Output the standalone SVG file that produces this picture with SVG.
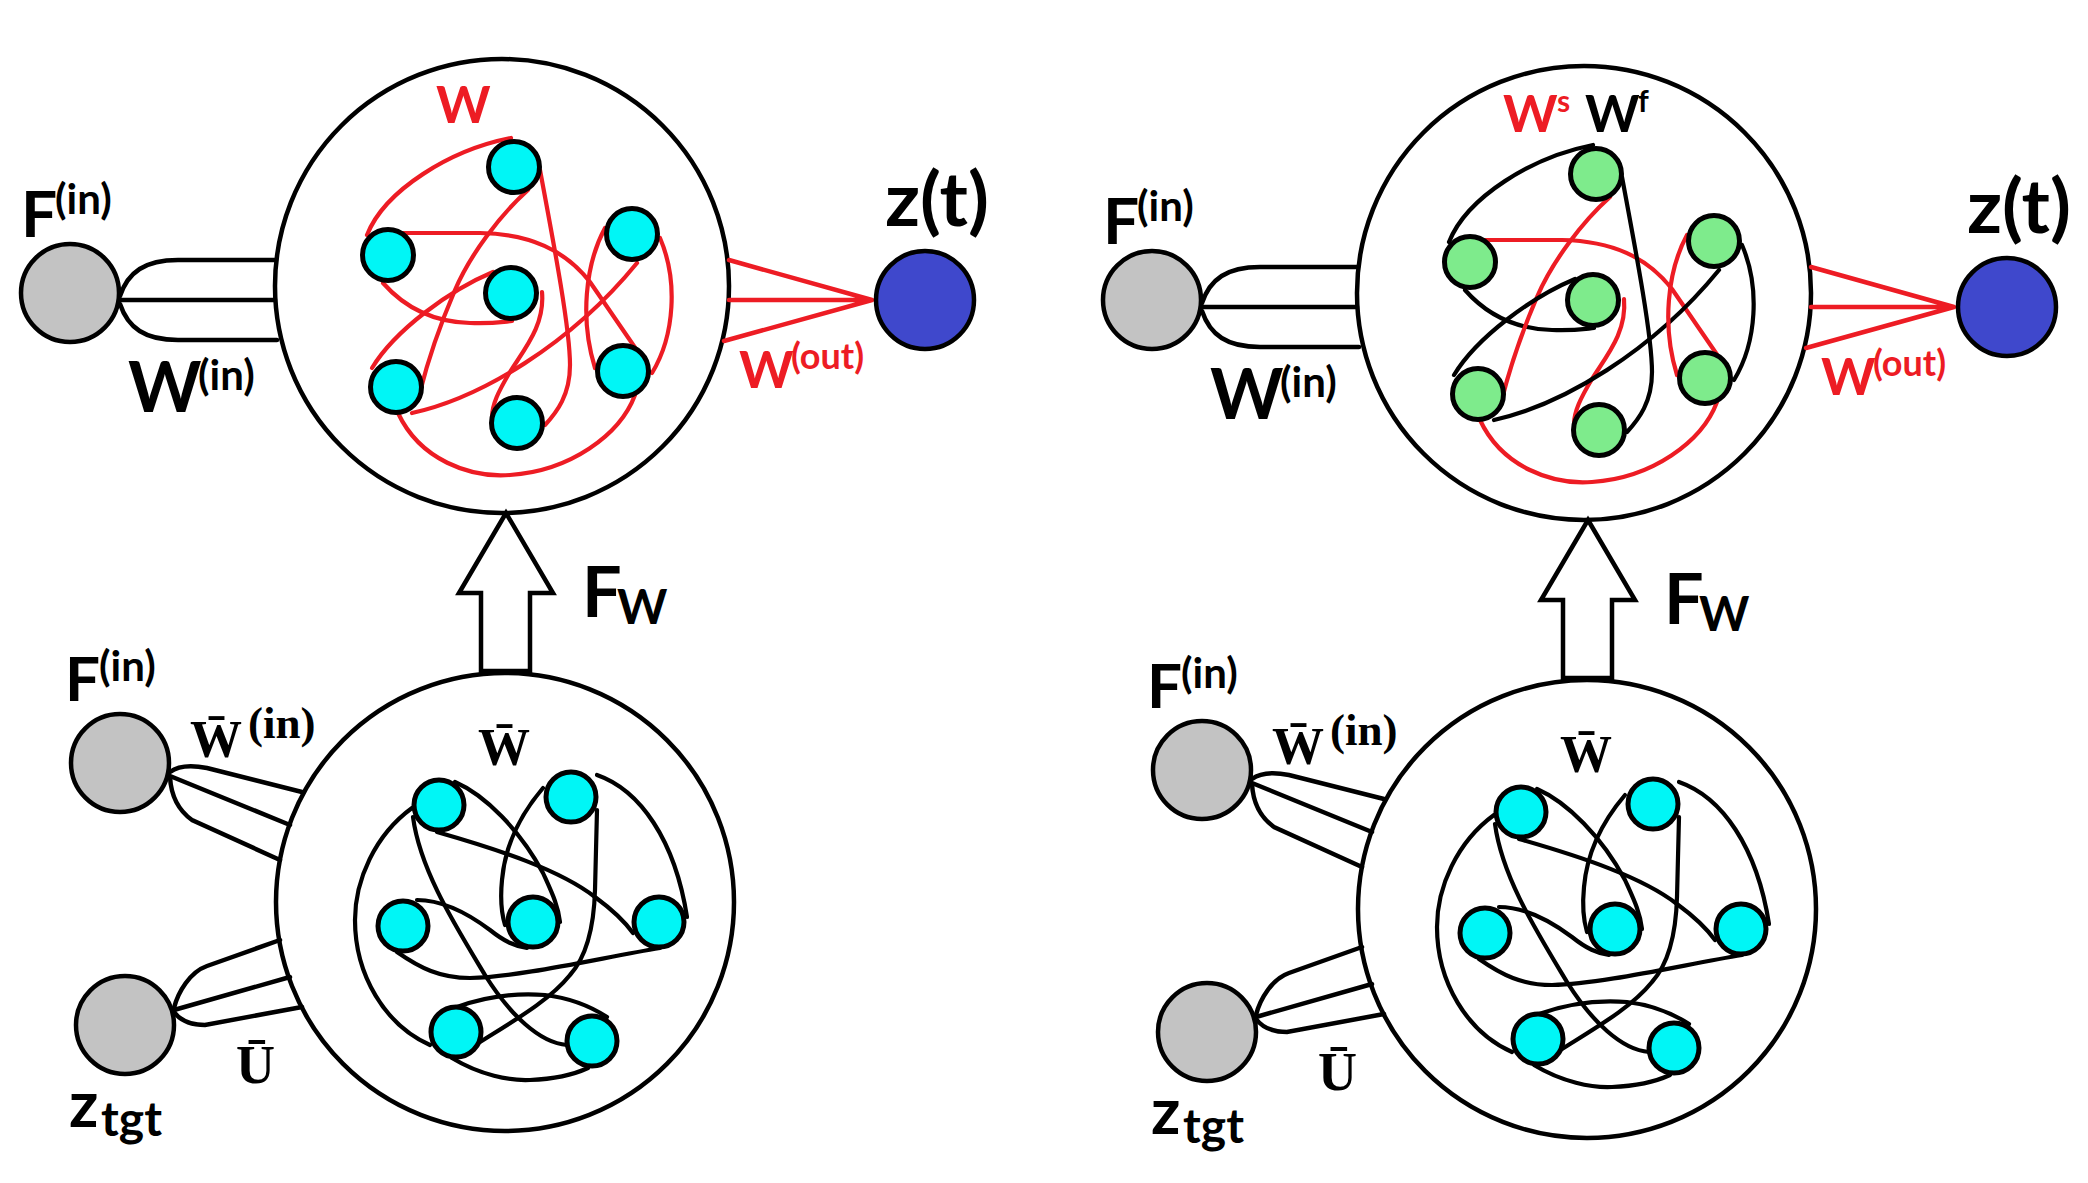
<svg xmlns="http://www.w3.org/2000/svg" width="2088" height="1183" viewBox="0 0 2088 1183">
<defs>
<style>
.res{fill:#fff;stroke:#000;stroke-width:4.5}
.nc{fill:#00f6f6;stroke:#000;stroke-width:5}
.ng{fill:#7eeb8c;stroke:#000;stroke-width:5}
.gin{fill:#c3c3c3;stroke:#000;stroke-width:4.5}
.zout{fill:#3f48cc;stroke:#000;stroke-width:4.5}
.e{fill:none;stroke-width:4.2;stroke-linecap:round;stroke-linejoin:round}
.r{stroke:#ed1c24}
.k{stroke:#000}
.ln{fill:none;stroke:#000;stroke-width:4.5;stroke-linecap:round}
.lo{fill:none;stroke:#ed1c24;stroke-width:4.5;stroke-linecap:round}
.arrow{fill:#fff;stroke:#000;stroke-width:4.5;stroke-linejoin:miter}
.t{font-family:Lato,"Liberation Sans",sans-serif;font-weight:bold;fill:#000}
.s{font-family:"Liberation Serif","DejaVu Serif",serif;font-weight:bold;fill:#000}
.red{fill:#ed1c24}
</style>
</defs>
<rect width="2088" height="1183" fill="#fff"/>

<!-- ===== reservoirs ===== -->
<g id="reservoir-top-left"><circle class="res" cx="502" cy="286" r="227"/></g>
<g id="reservoir-bottom-left"><circle class="res" cx="505" cy="902" r="229"/></g>
<g id="reservoir-top-right" transform="translate(1082,7)"><circle class="res" cx="502" cy="286" r="227"/></g>
<g id="reservoir-bottom-right" transform="translate(1082,7)"><circle class="res" cx="505" cy="902" r="229"/></g>

<!-- ===== connectors ===== -->
<g id="connectors">
  <g id="conn-top-left">
    <path class="ln" d="M120,296 C128,272 145,260 178,260 L276,260"/>
    <path class="ln" d="M120,300 L275,300"/>
    <path class="ln" d="M120,304 C128,328 145,340 178,340 L277,340"/>
    <path class="lo" d="M729,260 L872,300 M729,300 L872,300 M724,341 L872,300"/>
    <path class="e r" d="M511,138 C450,150 385,190 367,235"/>
    <path class="e r" d="M400,233 L480,233 C530,234 565,250 590,282 L636,349"/>
    <path class="e r" d="M383,283 C405,308 435,322 470,323 C490,324 502,322 512,321"/>
    <path class="e r" d="M528,190 C500,215 470,255 455,290 C440,325 428,360 420,392"/>
    <path class="e r" d="M540,170 C555,250 570,330 570,365 C570,395 557,412 545,425"/>
    <path class="e r" d="M493,272 C450,290 395,330 372,368"/>
    <path class="e r" d="M542,292 C545,325 525,348 510,372 C498,392 492,405 492,417"/>
    <path class="e r" d="M412,413 C480,398 570,345 637,263"/>
    <path class="e r" d="M605,228 C585,265 580,320 595,368"/>
    <path class="e r" d="M660,238 C678,280 675,335 652,373"/>
    <path class="e r" d="M398,413 C420,460 470,478 510,475 C570,471 620,435 635,395"/>
  </g>
  <g id="conn-top-right" transform="translate(1082,7)">
    <path class="ln" d="M120,296 C128,272 145,260 178,260 L276,260"/>
    <path class="ln" d="M120,300 L275,300"/>
    <path class="ln" d="M120,304 C128,328 145,340 178,340 L277,340"/>
    <path class="lo" d="M729,260 L872,300 M729,300 L872,300 M724,341 L872,300"/>
    <path class="e k" d="M511,138 C450,150 385,190 367,235"/>
    <path class="e r" d="M400,233 L480,233 C530,234 565,250 590,282 L636,349"/>
    <path class="e k" d="M383,283 C405,308 435,322 470,323 C490,324 502,322 512,321"/>
    <path class="e r" d="M528,190 C500,215 470,255 455,290 C440,325 428,360 420,392"/>
    <path class="e k" d="M540,170 C555,250 570,330 570,365 C570,395 557,412 545,425"/>
    <path class="e k" d="M493,272 C450,290 395,330 372,368"/>
    <path class="e r" d="M542,292 C545,325 525,348 510,372 C498,392 492,405 492,417"/>
    <path class="e k" d="M412,413 C480,398 570,345 637,263"/>
    <path class="e r" d="M605,228 C585,265 580,320 595,368"/>
    <path class="e k" d="M660,238 C678,280 675,335 652,373"/>
    <path class="e r" d="M398,413 C420,460 470,478 510,475 C570,471 620,435 635,395"/>
  </g>
  <g id="conn-bottom-left">
    <path class="ln" d="M170,772 C178,766 192,765 207,768 L302,792"/>
    <path class="ln" d="M170,776 L290,825"/>
    <path class="ln" d="M170,777 C171,795 178,810 192,820 L280,860"/>
    <path class="ln" d="M174,1008 C178,992 190,972 207,966 L280,940"/>
    <path class="ln" d="M174,1010 L290,977"/>
    <path class="ln" d="M174,1012 C180,1020 190,1025 205,1025 L302,1007"/>
    <path class="e k" d="M412,808 C375,835 355,880 355,920 C355,975 385,1025 430,1045"/>
    <path class="e k" d="M452,1058 C480,1075 510,1081 530,1080 C555,1079 575,1074 588,1068"/>
    <path class="e k" d="M457,1007 C490,995 520,993 545,995 C570,998 590,1006 607,1017"/>
    <path class="e k" d="M455,782 C485,795 520,830 543,873 C552,893 558,905 560,922"/>
    <path class="e k" d="M437,832 C500,850 560,870 595,897 C610,908 625,922 633,933"/>
    <path class="e k" d="M413,817 C420,870 455,925 485,975 C510,1015 540,1043 567,1045"/>
    <path class="e k" d="M543,788 C520,815 505,845 502,880 C500,900 502,915 505,925"/>
    <path class="e k" d="M597,810 L595,890 C594,925 588,955 570,975 C550,1000 515,1020 480,1042"/>
    <path class="e k" d="M597,775 C640,790 675,840 687,917"/>
    <path class="e k" d="M417,900 C445,900 470,915 490,930 C505,942 515,946 527,948"/>
    <path class="e k" d="M397,952 C420,968 440,978 470,978 C520,977 600,958 660,948"/>
  </g>
  <g id="conn-bottom-right" transform="translate(1082,7)">
    <path class="ln" d="M170,772 C178,766 192,765 207,768 L302,792"/>
    <path class="ln" d="M170,776 L290,825"/>
    <path class="ln" d="M170,777 C171,795 178,810 192,820 L280,860"/>
    <path class="ln" d="M174,1008 C178,992 190,972 207,966 L280,940"/>
    <path class="ln" d="M174,1010 L290,977"/>
    <path class="ln" d="M174,1012 C180,1020 190,1025 205,1025 L302,1007"/>
    <path class="e k" d="M412,808 C375,835 355,880 355,920 C355,975 385,1025 430,1045"/>
    <path class="e k" d="M452,1058 C480,1075 510,1081 530,1080 C555,1079 575,1074 588,1068"/>
    <path class="e k" d="M457,1007 C490,995 520,993 545,995 C570,998 590,1006 607,1017"/>
    <path class="e k" d="M455,782 C485,795 520,830 543,873 C552,893 558,905 560,922"/>
    <path class="e k" d="M437,832 C500,850 560,870 595,897 C610,908 625,922 633,933"/>
    <path class="e k" d="M413,817 C420,870 455,925 485,975 C510,1015 540,1043 567,1045"/>
    <path class="e k" d="M543,788 C520,815 505,845 502,880 C500,900 502,915 505,925"/>
    <path class="e k" d="M597,810 L595,890 C594,925 588,955 570,975 C550,1000 515,1020 480,1042"/>
    <path class="e k" d="M597,775 C640,790 675,840 687,917"/>
    <path class="e k" d="M417,900 C445,900 470,915 490,930 C505,942 515,946 527,948"/>
    <path class="e k" d="M397,952 C420,968 440,978 470,978 C520,977 600,958 660,948"/>
  </g>
  <g id="arrow-left"><polygon class="arrow" points="506,513 553,593 530,593 530,671 481,671 481,593 459,593"/></g>
  <g id="arrow-right" transform="translate(1082,7)"><polygon class="arrow" points="506,513 553,593 530,593 530,671 481,671 481,593 459,593"/></g>
</g>

<!-- ===== input / output nodes ===== -->
<g id="F-in-top-left"><circle class="gin" cx="70" cy="293" r="49"/></g>
<g id="z-out-top-left"><circle class="zout" cx="925" cy="300" r="49"/></g>
<g id="F-in-top-right" transform="translate(1082,7)"><circle class="gin" cx="70" cy="293" r="49"/></g>
<g id="z-out-top-right" transform="translate(1082,7)"><circle class="zout" cx="925" cy="300" r="49"/></g>
<g id="F-in-bottom-left"><circle class="gin" cx="120" cy="763" r="49"/></g>
<g id="z-tgt-bottom-left"><circle class="gin" cx="125" cy="1025" r="49"/></g>
<g id="F-in-bottom-right" transform="translate(1082,7)"><circle class="gin" cx="120" cy="763" r="49"/></g>
<g id="z-tgt-bottom-right" transform="translate(1082,7)"><circle class="gin" cx="125" cy="1025" r="49"/></g>

<!-- ===== reservoir neurons: top-left (cyan) ===== -->
<g id="tl-n1"><circle class="nc" cx="514" cy="167" r="25.5"/></g>
<g id="tl-n2"><circle class="nc" cx="388" cy="255" r="25.5"/></g>
<g id="tl-n3"><circle class="nc" cx="511" cy="293" r="25.5"/></g>
<g id="tl-n4"><circle class="nc" cx="632" cy="234" r="25.5"/></g>
<g id="tl-n5"><circle class="nc" cx="623" cy="371" r="25.5"/></g>
<g id="tl-n6"><circle class="nc" cx="396" cy="387" r="25.5"/></g>
<g id="tl-n7"><circle class="nc" cx="517" cy="423" r="25.5"/></g>

<!-- top-right (green) -->
<g id="tr-n1" transform="translate(1082,7)"><circle class="ng" cx="514" cy="167" r="25.5"/></g>
<g id="tr-n2" transform="translate(1082,7)"><circle class="ng" cx="388" cy="255" r="25.5"/></g>
<g id="tr-n3" transform="translate(1082,7)"><circle class="ng" cx="511" cy="293" r="25.5"/></g>
<g id="tr-n4" transform="translate(1082,7)"><circle class="ng" cx="632" cy="234" r="25.5"/></g>
<g id="tr-n5" transform="translate(1082,7)"><circle class="ng" cx="623" cy="371" r="25.5"/></g>
<g id="tr-n6" transform="translate(1082,7)"><circle class="ng" cx="396" cy="387" r="25.5"/></g>
<g id="tr-n7" transform="translate(1082,7)"><circle class="ng" cx="517" cy="423" r="25.5"/></g>

<!-- bottom-left (cyan) -->
<g id="bl-n1"><circle class="nc" cx="439" cy="805" r="25"/></g>
<g id="bl-n2"><circle class="nc" cx="571" cy="797" r="25"/></g>
<g id="bl-n3"><circle class="nc" cx="403" cy="926" r="25"/></g>
<g id="bl-n4"><circle class="nc" cx="533" cy="922" r="25"/></g>
<g id="bl-n5"><circle class="nc" cx="659" cy="922" r="25"/></g>
<g id="bl-n6"><circle class="nc" cx="456" cy="1032" r="25"/></g>
<g id="bl-n7"><circle class="nc" cx="592" cy="1041" r="25"/></g>

<!-- bottom-right (cyan) -->
<g id="br-n1" transform="translate(1082,7)"><circle class="nc" cx="439" cy="805" r="25"/></g>
<g id="br-n2" transform="translate(1082,7)"><circle class="nc" cx="571" cy="797" r="25"/></g>
<g id="br-n3" transform="translate(1082,7)"><circle class="nc" cx="403" cy="926" r="25"/></g>
<g id="br-n4" transform="translate(1082,7)"><circle class="nc" cx="533" cy="922" r="25"/></g>
<g id="br-n5" transform="translate(1082,7)"><circle class="nc" cx="659" cy="922" r="25"/></g>
<g id="br-n6" transform="translate(1082,7)"><circle class="nc" cx="456" cy="1032" r="25"/></g>
<g id="br-n7" transform="translate(1082,7)"><circle class="nc" cx="592" cy="1041" r="25"/></g>

<!-- ===== labels ===== -->
<g id="labels-top-left">
  <text class="t" x="21" y="237" font-size="64">F</text>
  <text class="t" x="55" y="214" font-size="42">(in)</text>
  <text class="t" x="128" y="412" font-size="70">W</text>
  <text class="t" x="198" y="390" font-size="42">(in)</text>
  <text class="t red" x="436" y="123" font-size="52">W</text>
  <text class="t" x="885" y="226" font-size="74" textLength="104" lengthAdjust="spacingAndGlyphs">z(t)</text>
  <text class="t red" x="739" y="388" font-size="52">W</text>
  <text class="t red" x="791" y="369" font-size="36">(out)</text>
  <text class="t" x="582" y="617" font-size="70">F</text>
  <text class="t" x="617" y="624" font-size="48">W</text>
</g>
<g id="labels-top-right" transform="translate(1082,7)">
  <text class="t" x="21" y="237" font-size="64">F</text>
  <text class="t" x="55" y="214" font-size="42">(in)</text>
  <text class="t" x="128" y="412" font-size="70">W</text>
  <text class="t" x="198" y="390" font-size="42">(in)</text>
  <text class="t red" x="421" y="125" font-size="52">W</text>
  <text class="t red" x="475" y="105" font-size="30">s</text>
  <text class="t" x="503" y="125" font-size="52">W</text>
  <text class="t" x="556" y="105" font-size="30">f</text>
  <text class="t" x="885" y="226" font-size="74" textLength="104" lengthAdjust="spacingAndGlyphs">z(t)</text>
  <text class="t red" x="739" y="388" font-size="52">W</text>
  <text class="t red" x="791" y="369" font-size="36">(out)</text>
  <text class="t" x="582" y="617" font-size="70">F</text>
  <text class="t" x="617" y="624" font-size="48">W</text>
</g>
<g id="labels-bottom-left">
  <text class="t" x="65" y="701" font-size="62">F</text>
  <text class="t" x="99" y="681" font-size="42">(in)</text>
  <text class="s" x="190" y="757" font-size="52">W̄</text>
  <text class="s" x="248" y="738" font-size="45">(in)</text>
  <text class="s" x="478" y="765" font-size="52">W̄</text>
  <text class="s" x="236" y="1083" font-size="54">Ū</text>
  <text class="t" x="69" y="1127" font-size="64">z</text>
  <text class="t" x="101" y="1136" font-size="48">tgt</text>
</g>
<g id="labels-bottom-right" transform="translate(1082,7)">
  <text class="t" x="65" y="701" font-size="62">F</text>
  <text class="t" x="99" y="681" font-size="42">(in)</text>
  <text class="s" x="190" y="757" font-size="52">W̄</text>
  <text class="s" x="248" y="738" font-size="45">(in)</text>
  <text class="s" x="478" y="765" font-size="52">W̄</text>
  <text class="s" x="236" y="1083" font-size="54">Ū</text>
  <text class="t" x="69" y="1127" font-size="64">z</text>
  <text class="t" x="101" y="1136" font-size="48">tgt</text>
</g>
</svg>
